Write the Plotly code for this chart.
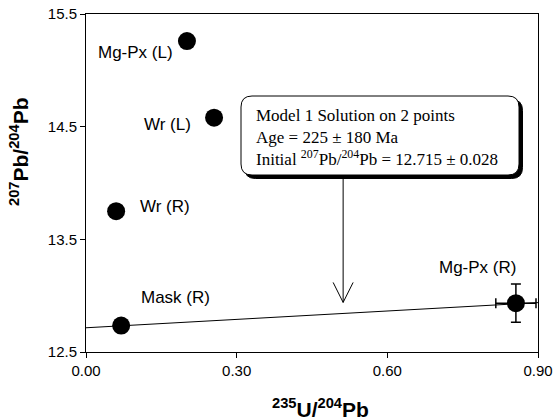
import math
import plotly.graph_objects as go

# ---- data ----
labels = ["Mg-Px (L)", "Wr (L)", "Wr (R)", "Mask (R)", "Mg-Px (R)"]
x_vals = [0.201, 0.255, 0.060, 0.070, 0.856]
y_vals = [15.26, 14.58, 13.75, 12.735, 12.933]
# label offsets in pixels (dx right, dy up)
label_dx = [-51, -47, 49, 54, -38]
label_dy = [-11, -7, 5, 28, 36]

err_x_val = 0.04   # Mg-Px (R) error in 235U/204Pb
err_y_val = 0.17   # Mg-Px (R) error in 207Pb/204Pb

intercept = 12.715
age_ma = 225
lambda235 = 9.8485e-10
slope = math.exp(lambda235 * age_ma * 1e6) - 1
line_x = [0.0, 0.9]
line_y = [intercept + slope * v for v in line_x]

x_ticks = [0.0, 0.3, 0.6, 0.9]
y_ticks = [12.5, 13.5, 14.5, 15.5]
arrow_x = 0.512
arrow_tip_y = 12.94

# ---- layout geometry ----
W, H = 553, 420
L, R, T, B = 86, 538, 14, 352


def PX(px):
    return (px - L) / (R - L)


def PY(py):
    return (B - py) / (B - T)


def data_to_px(x, y):
    return L + (x - 0) / 0.9 * (R - L), B - (y - 12.5) / 3.0 * (B - T)


def rrect(x0, y0, x1, y1, r):
    # rounded rectangle in pixel coords -> path in paper coords
    pts = []
    pts.append(f"M {PX(x0 + r)},{PY(y0)}")
    pts.append(f"L {PX(x1 - r)},{PY(y0)}")
    pts.append(f"Q {PX(x1)},{PY(y0)} {PX(x1)},{PY(y0 + r)}")
    pts.append(f"L {PX(x1)},{PY(y1 - r)}")
    pts.append(f"Q {PX(x1)},{PY(y1)} {PX(x1 - r)},{PY(y1)}")
    pts.append(f"L {PX(x0 + r)},{PY(y1)}")
    pts.append(f"Q {PX(x0)},{PY(y1)} {PX(x0)},{PY(y1 - r)}")
    pts.append(f"L {PX(x0)},{PY(y0 + r)}")
    pts.append(f"Q {PX(x0)},{PY(y0)} {PX(x0 + r)},{PY(y0)}")
    pts.append("Z")
    return " ".join(pts)


fig = go.Figure()

fig.add_trace(go.Scatter(
    x=line_x, y=line_y, mode="lines",
    line=dict(color="black", width=1), hoverinfo="skip", showlegend=False))

fig.add_trace(go.Scatter(
    x=x_vals[:4], y=y_vals[:4], mode="markers",
    marker=dict(size=18, color="black"), showlegend=False))

fig.add_trace(go.Scatter(
    x=[x_vals[4]], y=[y_vals[4]], mode="markers",
    marker=dict(size=18, color="black"),
    error_x=dict(type="data", array=[err_x_val], color="black", thickness=1.5, width=5),
    error_y=dict(type="data", array=[err_y_val], color="black", thickness=1.5, width=5),
    showlegend=False))

annotations = []
for lab, x, y, dx, dy in zip(labels, x_vals, y_vals, label_dx, label_dy):
    annotations.append(dict(
        x=x, y=y, xref="x", yref="y", text=lab, showarrow=False,
        xshift=dx, yshift=dy,
        font=dict(family="Liberation Sans, Arial", size=17, color="black")))

# box text
annotations.append(dict(
    xref="paper", yref="paper", x=PX(254), y=PY(137), xanchor="left", yanchor="middle",
    align="left", showarrow=False,
    text="Model 1 Solution on 2 points<br>Age = 225 ± 180 Ma<br>"
         "Initial <sup>207</sup>Pb/<sup>204</sup>Pb = 12.715 ± 0.028",
    font=dict(family="Liberation Serif, Times New Roman", size=17, color="black")))

# axis titles
annotations.append(dict(
    xref="paper", yref="paper", x=PX(320), y=PY(408), xanchor="center", yanchor="middle",
    showarrow=False, text="<b><sup>235</sup>U/<sup>204</sup>Pb</b>",
    font=dict(family="Liberation Sans, Arial", size=21, color="black")))
annotations.append(dict(
    xref="paper", yref="paper", x=PX(19), y=PY(152), xanchor="center", yanchor="middle",
    showarrow=False, textangle=-90, text="<b><sup>207</sup>Pb/<sup>204</sup>Pb</b>",
    font=dict(family="Liberation Sans, Arial", size=21, color="black")))

# box shapes
bx0, by0, bx1, by1, rad, sh = 241, 96, 519, 175, 11, 3.5
shapes = [
    dict(type="path", xref="paper", yref="paper",
         path=rrect(bx0 + sh, by0 + sh, bx1 + sh, by1 + sh, rad),
         fillcolor="black", line=dict(color="black", width=1), layer="above"),
    dict(type="path", xref="paper", yref="paper",
         path=rrect(bx0, by0, bx1, by1, rad),
         fillcolor="white", line=dict(color="black", width=1), layer="above"),
]

# arrow
ax_px, tip_py = data_to_px(arrow_x, arrow_tip_y)
shapes.append(dict(type="line", xref="paper", yref="paper",
                   x0=PX(ax_px), y0=PY(by1 + sh), x1=PX(ax_px), y1=PY(tip_py),
                   line=dict(color="black", width=1), layer="above"))
shapes.append(dict(type="path", xref="paper", yref="paper",
                   path=f"M {PX(ax_px - 10)},{PY(tip_py - 20)} L {PX(ax_px)},{PY(tip_py)} "
                        f"L {PX(ax_px + 10)},{PY(tip_py - 20)}",
                   line=dict(color="black", width=1), layer="above"))

axis_common = dict(ticks="outside", ticklen=5, tickcolor="black", showline=True,
                   linecolor="black", linewidth=1, mirror=True, showgrid=False,
                   zeroline=False, tickfont=dict(size=15), automargin=False)

fig.update_layout(
    width=W, height=H, autosize=False,
    margin=dict(l=L, r=W - R, t=T, b=H - B, pad=0, autoexpand=False),
    plot_bgcolor="white", paper_bgcolor="white",
    showlegend=False,
    annotations=annotations, shapes=shapes,
    font=dict(family="Liberation Sans, Arial", size=15, color="black"),
    xaxis=dict(range=[0, 0.9], tickvals=x_ticks, ticktext=[f"{v:.2f}" for v in x_ticks],
               **axis_common),
    yaxis=dict(range=[12.5, 15.5], tickvals=y_ticks, ticktext=[f"{v:.1f}" for v in y_ticks],
               **axis_common),
)

fig.write_html("out.html", config={"responsive": False, "displayModeBar": False},
               post_script="document.body.style.margin='0';document.body.style.overflow='hidden';")
